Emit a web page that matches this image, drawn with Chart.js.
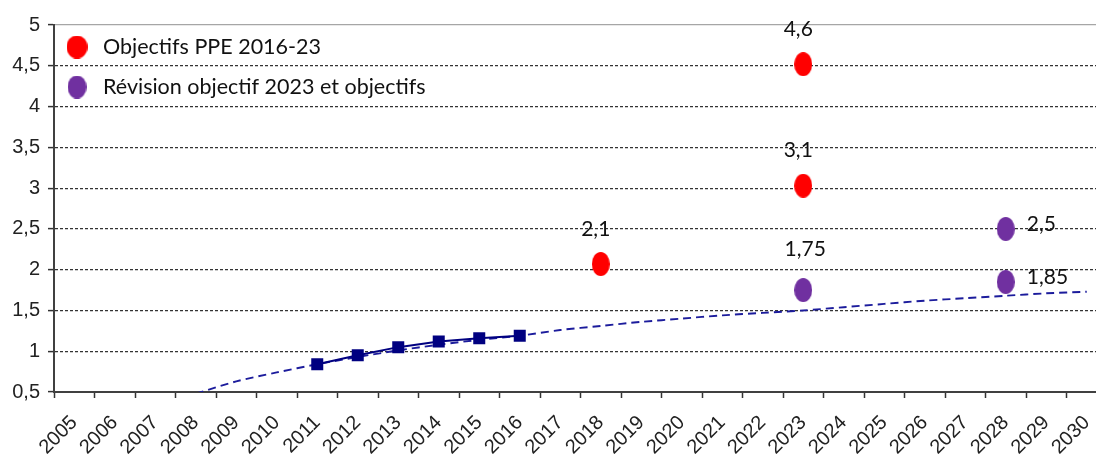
<!DOCTYPE html>
<html>
<head>
<meta charset="utf-8">
<script src="https://cdn.jsdelivr.net/npm/chart.js@4.4.1/dist/chart.umd.min.js"></script>
<style>
  html, body { margin: 0; padding: 0; background: #fff; overflow: hidden; }
  #wrap { width: 1120px; height: 459px; }
</style>
</head>
<body>
<div id="wrap"><canvas id="ppeChart"></canvas></div>
<script>
// Axe des années
const years = ['2005', '2006', '2007', '2008', '2009', '2010', '2011', '2012', '2013',
  '2014', '2015', '2016', '2017', '2018', '2019', '2020', '2021', '2022', '2023',
  '2024', '2025', '2026', '2027', '2028', '2029', '2030'];
const yTicks = [0.5, 1, 1.5, 2, 2.5, 3, 3.5, 4, 4.5, 5];

// Réalisé (carrés bleus)
const histYears = ['2011', '2012', '2013', '2014', '2015', '2016'];
const histValues = [0.84, 0.95, 1.05, 1.12, 1.16, 1.19];

// Tendance (pointillés), une valeur par année
const trendValues = [null, null, null, 0.48, 0.63, 0.74, 0.84, 0.93, 1.01, 1.08,
  1.14, 1.19, 1.26, 1.31, 1.36, 1.40, 1.44, 1.47, 1.50, 1.54, 1.58, 1.62, 1.65,
  1.68, 1.71, 1.73];

// Objectifs PPE 2016-23 (rouge)
const ppeYears = ['2018', '2023', '2023'];
const ppeValues = [2.07, 3.03, 4.52];
const ppeLabels = ['2,1', '3,1', '4,6'];

// Révision objectif 2023 et objectifs (violet)
const revYears = ['2023', '2028', '2028'];
const revValues = [1.75, 2.5, 1.85];
const revLabels = ['1,75', '2,5', '1,85'];

function dot(color, w, h) {
  const c = document.createElement('canvas');
  c.width = w;
  c.height = h;
  const g = c.getContext('2d');
  g.fillStyle = color;
  g.beginPath();
  g.ellipse(w / 2, h / 2, w / 2, h / 2, 0, 0, Math.PI * 2);
  g.fill();
  return c;
}

const redDot = dot('#ff0000', 18, 24);
const purpleDot = dot('#7030a0', 18, 24);
const redKey = dot('#ff0000', 21, 23);
const purpleKey = dot('#7030a0', 19, 23);

// libellés des points + légende dans la zone de tracé
const overlay = {
  id: 'overlay',
  afterDatasetsDraw(chart) {
    const ctx = chart.ctx;
    const area = chart.chartArea;
    ctx.save();
    ctx.fillStyle = '#111';
    ctx.textBaseline = 'middle';
    ctx.font = '21px Lato';

    const redMeta = chart.getDatasetMeta(0);
    redMeta.data.forEach((pt, i) => {
      ctx.textAlign = 'center';
      ctx.fillText(ppeLabels[i], pt.x - 5, pt.y - 35);
    });
    const revMeta = chart.getDatasetMeta(1);
    revMeta.data.forEach((pt, i) => {
      if (i === 0) {
        ctx.textAlign = 'center';
        ctx.fillText(revLabels[i], pt.x + 2, pt.y - 41);
      } else {
        ctx.textAlign = 'left';
        ctx.fillText(revLabels[i], pt.x + 21, pt.y - 5);
      }
    });

    ctx.font = '21.5px Lato';
    ctx.textAlign = 'left';
    [redKey, purpleKey].forEach((img, i) => {
      const cy = area.top + 22 + i * 40;
      ctx.drawImage(img, area.left + 23 - img.width / 2, cy - img.height / 2);
      ctx.fillText(chart.data.datasets[i].label, area.left + 49, cy);
    });
    ctx.restore();
  }
};

function build() {
  new Chart(document.getElementById('ppeChart'), {
    type: 'line',
    data: {
      labels: years,
      datasets: [
        {
          label: 'Objectifs PPE 2016-23',
          data: ppeYears.map((x, i) => ({ x: x, y: ppeValues[i] })),
          showLine: false,
          pointStyle: redDot,
          pointRadius: 12,
          backgroundColor: '#ff0000',
        },
        {
          label: 'Révision objectif 2023 et objectifs',
          data: revYears.map((x, i) => ({ x: x, y: revValues[i] })),
          showLine: false,
          pointStyle: purpleDot,
          pointRadius: 12,
          backgroundColor: '#7030a0',
        },
        {
          label: 'Réalisé',
          data: histYears.map((x, i) => ({ x: x, y: histValues[i] })),
          borderColor: '#000080',
          borderWidth: 2,
          pointStyle: 'rect',
          pointRadius: 8.5,
          pointBackgroundColor: '#000080',
          pointBorderWidth: 0,
        },
        {
          label: 'Tendance',
          data: trendValues,
          borderColor: '#1c1c9c',
          borderWidth: 1.9,
          borderDash: [8, 5],
          pointRadius: 0,
          tension: 0.3,
        },
      ]
    },
    options: {
      responsive: true,
      maintainAspectRatio: false,
      animation: false,
      layout: { padding: { top: 25, right: 5, left: 0, bottom: 0 } },
      plugins: {
        legend: { display: false },
        tooltip: { enabled: false },
      },
      scales: {
        x: {
          offset: true,
          grid: {
            offset: true,
            drawOnChartArea: false,
            tickLength: 6,
            tickColor: '#333',
            tickWidth: 1.5,
          },
          border: { color: '#404040', width: 2 },
          ticks: {
            autoSkip: false,
            minRotation: 45,
            maxRotation: 45,
            color: '#222',
            padding: 13,
            font: { family: 'Liberation Sans', size: 20 },
          },
          afterFit: (s) => { s.height = 67; },
        },
        y: {
          min: 0.5,
          max: 5,
          afterBuildTicks: (s) => { s.ticks = yTicks.map(v => ({ value: v })); },
          grid: {
            color: (c) => (c.tick && c.tick.value === 5 ? '#a6a6a6' : '#333'),
            lineWidth: 1.2,
            tickLength: 6,
            tickColor: '#333',
            tickWidth: 1.5,
          },
          border: {
            color: '#404040',
            width: 2,
            dash: (c) => (c.tick && c.tick.value === 5 ? [] : [3, 2]),
          },
          ticks: {
            color: '#222',
            padding: 8,
            font: { family: 'Liberation Sans', size: 20 },
            callback: (v) => String(v).replace('.', ','),
          },
          afterFit: (s) => { s.width = 54; },
        },
      },
    },
    plugins: [overlay],
  });
}

Promise.all([
  document.fonts.load('20px Lato'),
  document.fonts.load('17px "Liberation Sans"'),
]).then(build, build);
</script>
</body>
</html>
